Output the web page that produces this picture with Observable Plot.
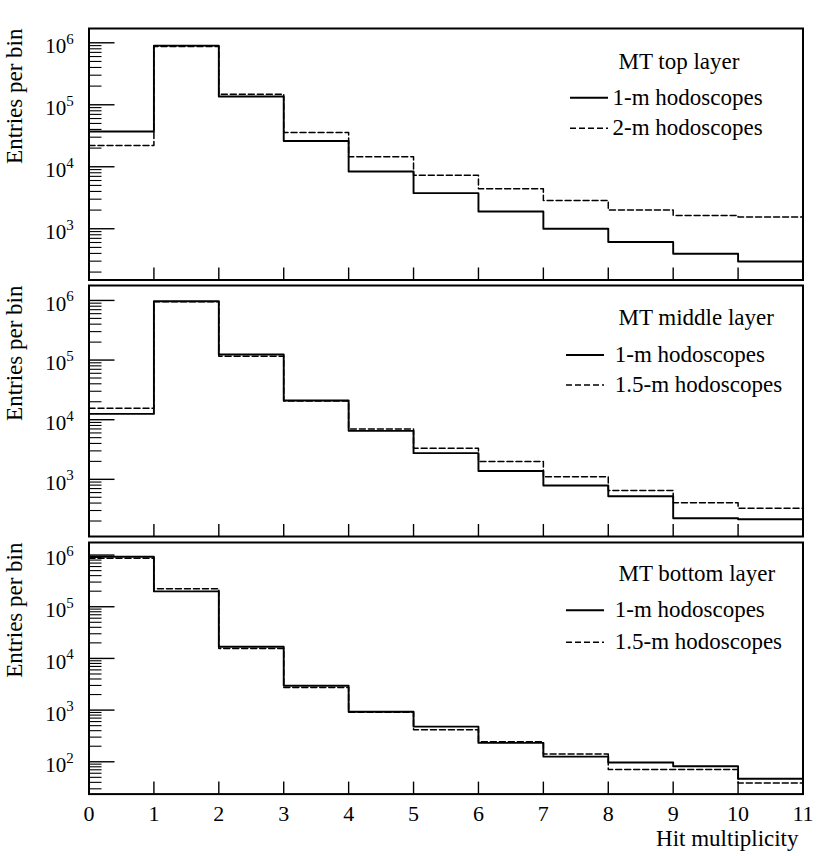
<!DOCTYPE html>
<html>
<head>
<meta charset="utf-8">
<script src="https://cdn.jsdelivr.net/npm/d3@7"></script>
<script src="https://cdn.jsdelivr.net/npm/@observablehq/plot@0.6"></script>
<style>
  body { margin: 0; background: #fff; }
  #chart { position: relative; width: 830px; height: 856px; font-family: "Liberation Serif", "Times New Roman", serif; }
  #chart svg { position: absolute; left: 0; overflow: visible; }
</style>
</head>
<body>
<div id="chart"></div>
<script>
// ---- data ----
const bins = [0, 1, 2, 3, 4, 5, 6, 7, 8, 9, 10];
const xEnd = 11;
const xTickLabels = [0, 1, 2, 3, 4, 5, 6, 7, 8, 9, 10, 11];

const layerTitles = ["MT top layer", "MT middle layer", "MT bottom layer"];
const solidLabels = ["1-m hodoscopes", "1-m hodoscopes", "1-m hodoscopes"];
const dashedLabels = ["2-m hodoscopes", "1.5-m hodoscopes", "1.5-m hodoscopes"];

const topSolid   = [37000, 900000, 136000, 26000, 8400, 3750, 1900, 1000, 610, 395, 297];
const topDashed  = [22000, 870000, 148000, 35700, 14500, 7300, 4400, 2860, 2000, 1640, 1550];
const midSolid   = [12500, 970000, 124000, 21000, 6500, 2750, 1380, 790, 520, 222, 214];
const midDashed  = [15600, 950000, 116000, 20500, 7000, 3330, 2000, 1100, 650, 403, 327];
const botSolid   = [930000, 198000, 16800, 2960, 930, 478, 232, 126, 97, 82, 47];
const botDashed  = [870000, 223000, 15600, 2750, 910, 417, 243, 141, 71, 71, 39];

const yDomains = [[149, 1.70e6], [110, 1.78e6], [23.7, 1.75e6]];
const majorTicks = [1e1, 1e2, 1e3, 1e4, 1e5, 1e6];
const minorMultipliers = [2, 3, 4, 5, 6, 7, 8, 9];
const xTicks = [1, 2, 3, 4, 5, 6, 7, 8, 9, 10];

const yLabel = "Entries per bin";
const xLabel = "Hit multiplicity";

// ---- layout ----
const W = 830, mL = 88.5, mR = 27.5;
const frameW = W - mL - mR;
const panels = [
  {solid: topSolid, dashed: topDashed, svgTop: 0,     mT: 28, frameH: 251.5, mB: 3,
   titleDy: 40.3, lineX: [570, 608], rowDy: [69.7, 100.3], textX: 612},
  {solid: midSolid, dashed: midDashed, svgTop: 282,   mT: 3,  frameH: 251,   mB: 3,
   titleDy: 39,   lineX: [566, 604], rowDy: [70, 100],     textX: 614.3},
  {solid: botSolid, dashed: botDashed, svgTop: 538.7, mT: 3,  frameH: 251.6, mB: 63,
   titleDy: 38.3, lineX: [566, 604], rowDy: [68.3, 100.3], textX: 614.3}
];

function steps(vals) {
  const pts = bins.map((b, i) => ({x: b, y: vals[i]}));
  pts.push({x: xEnd, y: vals[vals.length - 1]});
  return pts;
}

const chart = document.getElementById("chart");
const dash = "6,3";

panels.forEach((p, idx) => {
  const [lo, hi] = yDomains[idx];
  const majors = majorTicks.filter(v => v >= lo && v <= hi);
  const minors = [];
  majorTicks.forEach(m => minorMultipliers.forEach(k => {
    const v = m * k;
    if (v >= lo && v <= hi) minors.push(v);
  }));
  const last = idx === panels.length - 1;

  const marks = [
    Plot.line(steps(p.dashed), {x: "x", y: "y", curve: "step-after", stroke: "black", strokeWidth: 1.5, strokeDasharray: dash}),
    Plot.line(steps(p.solid), {x: "x", y: "y", curve: "step-after", stroke: "black", strokeWidth: 1.9}),
    Plot.tickY(minors, {y: d => d, insetRight: frameW - 13, stroke: "black", strokeWidth: 1.1}),
    Plot.tickY(majors, {y: d => d, insetRight: frameW - 26, stroke: "black", strokeWidth: 1.4}),
    Plot.tickX(xTicks, {x: d => d, insetTop: p.frameH - 12, stroke: "black", strokeWidth: 1.4}),
    Plot.frame({stroke: "black", strokeWidth: 2}),
    Plot.text(majors, {y: d => d, frameAnchor: "left", text: d => String(Math.round(Math.log10(d))),
      textAnchor: "end", lineAnchor: "bottom", dx: -15.2, dy: 10.4, fontSize: 21, fill: "black",
      ariaDescription: "ytick"}),
    Plot.text([yLabel], {frameAnchor: "top-left", rotate: -90, textAnchor: "end", lineAnchor: "bottom",
      dx: -66.6, fontSize: 23, fill: "black"}),
    Plot.text([layerTitles[idx]], {frameAnchor: "top-left", textAnchor: "start", lineAnchor: "bottom",
      dx: 618 - mL, dy: p.titleDy, fontSize: 23, fill: "black"}),
    Plot.text([solidLabels[idx]], {frameAnchor: "top-left", textAnchor: "start", lineAnchor: "bottom",
      dx: p.textX - mL, dy: p.rowDy[0] + 6.5, fontSize: 23, fill: "black"}),
    Plot.text([dashedLabels[idx]], {frameAnchor: "top-left", textAnchor: "start", lineAnchor: "bottom",
      dx: p.textX - mL, dy: p.rowDy[1] + 6.5, fontSize: 23, fill: "black"})
  ];
  if (last) {
    marks.push(
      Plot.text(xTickLabels, {x: d => d, frameAnchor: "bottom", text: d => String(d), lineAnchor: "bottom",
        dy: 26.7, fontSize: 22, fill: "black"}),
      Plot.text([xLabel], {frameAnchor: "bottom-right", textAnchor: "end", lineAnchor: "bottom",
        dx: -4.5, dy: 51.7, fontSize: 23, fill: "black"})
    );
  }

  const svg = Plot.plot({
    width: W,
    height: p.mT + p.frameH + p.mB,
    marginLeft: mL, marginRight: mR, marginTop: p.mT, marginBottom: p.mB,
    style: {fontFamily: '"Liberation Serif", "Times New Roman", serif', background: "transparent", overflow: "visible"},
    x: {domain: [0, xEnd], axis: null},
    y: {type: "log", domain: [lo, hi], axis: null},
    marks
  });
  svg.style.top = p.svgTop + "px";

  // superscript exponents for 10^n labels
  d3.select(svg).selectAll('g[aria-description="ytick"] text').each(function () {
    const e = this.textContent;
    this.textContent = "10";
    d3.select(this).append("tspan").attr("dy", -9.4).attr("font-size", 15).text(e);
  });

  // legend samples
  const g = d3.select(svg).append("g").attr("stroke", "black");
  g.append("line").attr("x1", p.lineX[0]).attr("x2", p.lineX[1])
    .attr("y1", p.mT + p.rowDy[0]).attr("y2", p.mT + p.rowDy[0]).attr("stroke-width", 1.9);
  g.append("line").attr("x1", p.lineX[0]).attr("x2", p.lineX[1])
    .attr("y1", p.mT + p.rowDy[1]).attr("y2", p.mT + p.rowDy[1]).attr("stroke-width", 1.5)
    .attr("stroke-dasharray", dash);

  chart.appendChild(svg);
});
</script>
</body>
</html>
